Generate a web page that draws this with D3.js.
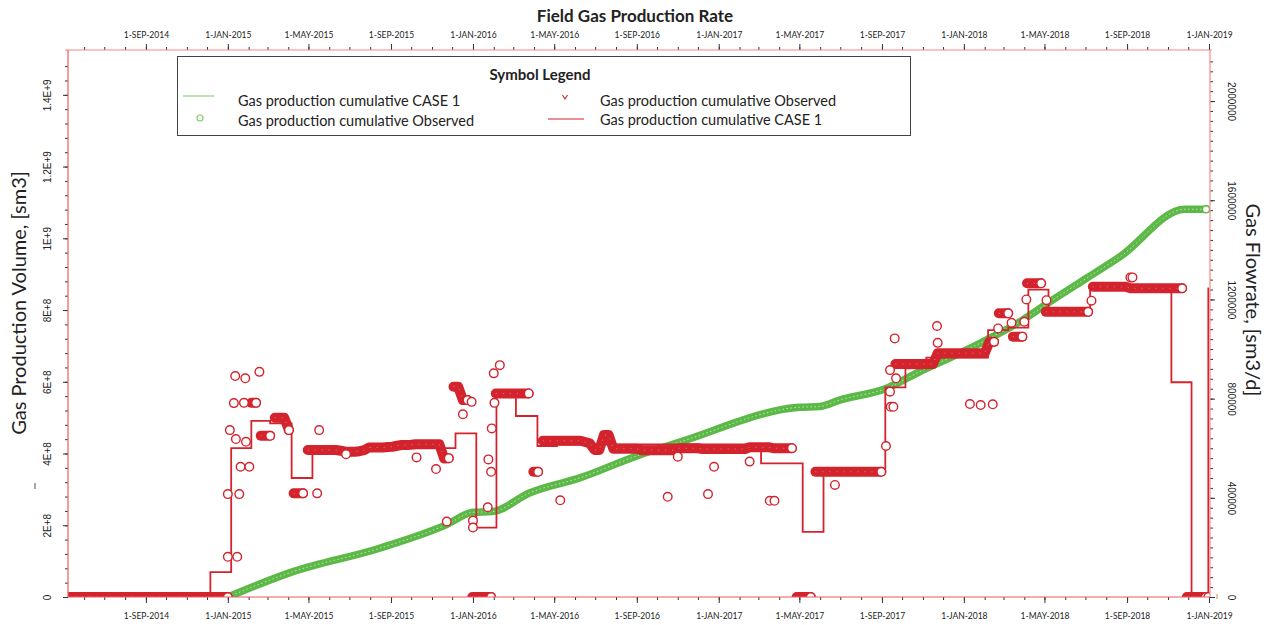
<!DOCTYPE html>
<html>
<head>
<meta charset="utf-8">
<script src="https://cdn.jsdelivr.net/npm/d3@7"></script>
<style>
  body { margin: 0; background: #fff; }
  svg { display: block; font-family: Lato, "Open Sans", sans-serif; }
</style>
</head>
<body>
<svg id="chart" width="1273" height="625"></svg>
<script>
// ---- axis domains and ticks ----
const dateDomain = ["2014-05-08", "2019-01-01"];
const volumeDomain = [0, 1.525e9];
const rateDomain = [0, 2.206e6];

const xTickDates = ["2014-09-01", "2015-01-01", "2015-05-01", "2015-09-01", "2016-01-01", "2016-05-01",
  "2016-09-01", "2017-01-01", "2017-05-01", "2017-09-01", "2018-01-01", "2018-05-01", "2018-09-01", "2019-01-01"];
const xTickLabels = ["1-SEP-2014", "1-JAN-2015", "1-MAY-2015", "1-SEP-2015", "1-JAN-2016", "1-MAY-2016",
  "1-SEP-2016", "1-JAN-2017", "1-MAY-2017", "1-SEP-2017", "1-JAN-2018", "1-MAY-2018", "1-SEP-2018", "1-JAN-2019"];

const volumeTicks = [0, 2e8, 4e8, 6e8, 8e8, 1e9, 1.2e9, 1.4e9];
const volumeTickLabels = ["0", "2E+8", "4E+8", "6E+8", "8E+8", "1E+9", "1.2E+9", "1.4E+9"];
const rateTicks = [0, 400000, 800000, 1200000, 1600000, 2000000];
const rateTickLabels = ["0", "400000", "800000", "1200000", "1600000", "2000000"];

// ---- cumulative gas production, CASE 1 (sm3) ----
const cumDates = ["2015-01-01", "2015-04-07", "2015-08-15", "2015-11-22", "2016-01-01", "2016-01-30",
  "2016-03-25", "2016-06-08", "2016-09-05", "2016-11-04", "2017-05-01", "2017-05-31", "2017-06-30",
  "2017-09-08", "2017-10-27", "2017-12-15", "2018-02-04", "2018-03-25", "2018-05-13", "2018-07-02",
  "2018-08-21", "2018-11-26", "2019-01-01"];
const cumVolume = [0, 70e6, 136e6, 201e6, 236e6, 238e6,
  290e6, 332e6, 396e6, 432e6, 529e6, 531e6, 549e6,
  582e6, 628e6, 670e6, 717e6, 767e6, 828e6, 888e6,
  948e6, 1081e6, 1081e6];

// ---- gas rate, CASE 1 (sm3/d), step changes ----
const caseDates = ["2014-05-08", "2014-12-06", "2015-01-06", "2015-02-05", "2015-03-05", "2015-04-06",
  "2015-05-07", "2015-12-06", "2016-01-06", "2016-02-05", "2016-03-05", "2016-04-06", "2016-05-05",
  "2017-03-05", "2017-05-06", "2017-06-06", "2017-09-06", "2017-10-06", "2017-11-06", "2018-02-06",
  "2018-03-08", "2018-04-07", "2018-05-07", "2018-07-08", "2018-11-06", "2018-12-06", "2018-12-31",
  "2019-01-01"];
const caseRate = [0, 100000, 600000, 710000, 700000, 480000,
  600000, 660000, 280000, 830000, 730000, 609000, 615000,
  539000, 263000, 505000, 845000, 922000, 965000, 1076000,
  1086000, 1240000, 1160000, 1254000, 866000, 0, 1245000,
  1245000];

// ---- observed gas rate (thousand sm3/d), weekly from obsStart ----
const obsStart = "2014-05-08";
const obsWeekly = [
  0, 0, 0, 0, 0, 0, 0, 0, 0, 0, 0, 0, 0, 0, 0, 0, 0,
  0, 0, 0, 0, 0, 0, 0, 0, 0, 0, 0, 0, 0, 0, 0, 0, 0,
  0, null, null, null, null, 783, 783, 650, 650, 650,
  723, 723, 723, 673, 418, 418, 418, 593, 593, 593,
  593, 593, 593, 593, 590, 586, 586, 586, 588, 592,
  603, 603, 603, 603, 605, 606, 610, 613, 613, 614,
  616, 616, 616, 616, 616, 616, 559, 560, 848, 848,
  794, 794, 0, 0, 0, 0, 0, 821, 821, 821,
  821, 821, 821, 821, 821, 505, 505, 630, 630, 630,
  630, 630, 630, 630, 630, 630, 625, 620, 593, 593,
  653, 653, 598, 598, 598, 598, 598, 598, 592, 592,
  592, 592, 592, 592, 592, 592, 600, 600, 600, 600,
  600, 597, 597, 597, 597, 597, 597, 597, 597, 597,
  597, 604, 604, 604, 604, 604, 600, 600, 600, 600,
  600, 0, 0, 0, 0, 505, 505, 505, 505, 505,
  505, 505, 505, 505, 505, 505, 505, 505, 505, 505,
  609, 767, 940, 940, 940, 940, 940, 940, 940, 940,
  940, 983, 983, 983, 983, 983, 983, 983, 983, 983,
  983, 983, 1029, 1029, 1144, 1144, 1144, 1050, 1050, 1050,
  1265, 1265, 1265, 1265, 1150, 1150, 1150, 1150, 1150, 1150,
  1150, 1150, 1150, 1150, 1251, 1251, 1251, 1251, 1251, 1251,
  1251, 1251, 1245, 1245, 1245, 1245, 1245, 1245, 1245, 1245,
  1245, 1245, 1245, 1245, 0, 0, 0, 0, 0
];
// scattered observations (date, thousand sm3/d)
const obsExtraDates = ["2015-01-01", "2015-01-15", "2015-01-01", "2015-01-18", "2015-01-04", "2015-01-10",
  "2015-01-13", "2015-01-28", "2015-01-20", "2015-02-02", "2015-01-12", "2015-01-27", "2015-02-17",
  "2015-01-25", "2015-05-14", "2015-05-17", "2015-06-26", "2015-10-09", "2015-11-07", "2015-11-23",
  "2015-12-17", "2015-12-30", "2016-01-01", "2016-01-01", "2016-01-24", "2016-01-28", "2016-01-29",
  "2016-01-23", "2016-02-01", "2016-02-10", "2016-02-02", "2016-05-10", "2016-11-01", "2016-10-17",
  "2016-12-16", "2016-12-25", "2017-02-16", "2017-03-18", "2017-03-25", "2017-06-23",
  "2017-09-13", "2017-09-13", "2017-09-20", "2017-09-22", "2017-09-18", "2017-11-22", "2017-11-23",
  "2018-01-10", "2018-01-26", "2018-02-13", "2018-02-21", "2018-03-13", "2018-04-01", "2018-04-04",
  "2018-05-04", "2018-07-10", "2018-09-06", "2018-09-09", "2018-12-31"];
const obsExtraRate = [162, 162, 415, 415, 673, 782,
  637, 626, 525, 525, 891, 882, 908,
  783, 418, 673, 576, 563, 516, 304,
  737, 787, 308, 280, 555, 505, 680,
  362, 902, 935, 783, 390, 566, 404,
  415, 525, 546, 388, 388, 452,
  828, 915, 1043, 882, 767, 1093, 1025,
  778, 774, 777, 1083, 1106, 1110, 1200,
  1197, 1195, 1289, 1289, 0];

// ---- legend ----
const legendTitle = "Symbol Legend";
const legendLabels = ["Gas production cumulative CASE 1", "Gas production cumulative Observed",
  "Gas production cumulative Observed", "Gas production cumulative CASE 1"];

const chartTitle = "Field Gas Production Rate";
const leftTitle = "Gas Production Volume, [sm3]";
const rightTitle = "Gas Flowrate, [sm3/d]";

// ---- colours ----
const GREEN = "#5cb947";
const RED = "#d3232d";
const FRAME = "#ee5a5e";
const FRAME_LIGHT = "#f58a8c";
const TICK = "#333";

const MARK_R = 4.3, MARK_W = 1.4;

const parse = d3.utcParse("%Y-%m-%d");
const plot = { left: 68, right: 1209, top: 50, bottom: 597 };

const x = d3.scaleUtc().domain(dateDomain.map(parse)).range([plot.left, plot.right]);
const yVol = d3.scaleLinear().domain(volumeDomain).range([plot.bottom, plot.top]);
const yRate = d3.scaleLinear().domain(rateDomain).range([plot.bottom, plot.top]);

const svg = d3.select("#chart");

svg.append("defs").append("clipPath").attr("id", "plotClip")
  .append("rect")
  .attr("x", plot.left).attr("y", plot.top)
  .attr("width", plot.right - plot.left + 1).attr("height", plot.bottom - plot.top);

// ---- title ----
svg.append("text")
  .attr("x", 635).attr("y", 22)
  .attr("text-anchor", "middle")
  .attr("font-size", 17).attr("font-weight", "bold").attr("fill", "#222")
  .text(chartTitle);

// ---- time axes (monthly minor ticks, labelled every four months) ----
const months = d3.utcMonth.range(d3.utcMonth.ceil(x.domain()[0]), d3.utcDay.offset(x.domain()[1], 1));
const majorDates = xTickDates.map(parse);

function timeAxis(axisFn, y, labelY) {
  const gMinor = svg.append("g").attr("transform", `translate(0,${y})`)
    .call(axisFn(x).tickValues(months).tickSize(3).tickFormat(""));
  gMinor.select(".domain").remove();
  gMinor.selectAll("line").attr("stroke", TICK);
  const gMajor = svg.append("g").attr("transform", `translate(0,${y})`)
    .call(axisFn(x).tickValues(majorDates).tickSize(6)
      .tickFormat((d, i) => xTickLabels[i]));
  gMajor.select(".domain").remove();
  gMajor.selectAll("line").attr("stroke", TICK);
  gMajor.selectAll("text")
    .attr("y", labelY).attr("dy", null)
    .attr("font-size", 8.5).attr("fill", "#222")
    .attr("font-family", "Lato, sans-serif");
}
timeAxis(d3.axisTop, plot.top, -12);
timeAxis(d3.axisBottom, plot.bottom, 22);

// ---- left volume axis ----
const volMinor = d3.range(0, 1.52e9, 4e7);
const gVolMinor = svg.append("g").attr("transform", `translate(${plot.left},0)`)
  .call(d3.axisLeft(yVol).tickValues(volMinor).tickSize(3).tickFormat(""));
gVolMinor.select(".domain").remove();
gVolMinor.selectAll("line").attr("stroke", TICK);
const gVol = svg.append("g").attr("transform", `translate(${plot.left},0)`)
  .call(d3.axisLeft(yVol).tickValues(volumeTicks).tickSize(5)
    .tickFormat((d, i) => volumeTickLabels[i]));
gVol.select(".domain").remove();
gVol.selectAll("line").attr("stroke", TICK);
gVol.selectAll("text")
  .attr("x", null).attr("dy", null)
  .attr("text-anchor", "middle")
  .attr("transform", "translate(-17,0) rotate(-90)")
  .attr("font-size", 10).attr("fill", "#222");

// ---- right rate axis ----
const rateMinor = d3.range(0, 2.2e6, 40000);
const gRateMinor = svg.append("g").attr("transform", `translate(${plot.right + 1},0)`)
  .call(d3.axisRight(yRate).tickValues(rateMinor).tickSize(3).tickFormat(""));
gRateMinor.select(".domain").remove();
gRateMinor.selectAll("line").attr("stroke", TICK);
const gRate = svg.append("g").attr("transform", `translate(${plot.right + 1},0)`)
  .call(d3.axisRight(yRate).tickValues(rateTicks).tickSize(5)
    .tickFormat((d, i) => rateTickLabels[i]));
gRate.select(".domain").remove();
gRate.selectAll("line").attr("stroke", TICK);
gRate.selectAll("text")
  .attr("x", null).attr("dy", null)
  .attr("text-anchor", "middle")
  .attr("transform", "translate(18,0) rotate(90)")
  .attr("font-size", 10).attr("fill", "#222");

// ---- axis titles ----
svg.append("text")
  .attr("transform", "translate(26,303) rotate(-90)")
  .attr("text-anchor", "middle")
  .attr("font-size", 20).attr("fill", "#222")
  .text(leftTitle);
svg.append("text")
  .attr("transform", "translate(1246,300) rotate(90)")
  .attr("text-anchor", "middle")
  .attr("font-size", 20).attr("fill", "#222")
  .text(rightTitle);

// ---- data layers ----
const data = svg.append("g").attr("clip-path", "url(#plotClip)");

// cumulative volume: thick band of overlapping markers
const cumPts = cumDates.map((d, i) => [x(parse(d)), yVol(cumVolume[i])]);
const cumLine = d3.line().curve(d3.curveMonotoneX);
data.append("path")
  .attr("d", cumLine(cumPts))
  .attr("fill", "none").attr("stroke", GREEN).attr("stroke-width", 7.5);
data.append("path")
  .attr("d", cumLine(cumPts))
  .attr("fill", "none").attr("stroke", "#bfe5b3").attr("stroke-width", 1)
  .attr("stroke-dasharray", "1.5 2.5");
const cumEnd = cumPts[cumPts.length - 1];
data.append("circle")
  .attr("cx", cumEnd[0] - 3).attr("cy", cumEnd[1]).attr("r", 3.6)
  .attr("fill", "#fff").attr("stroke", GREEN).attr("stroke-width", 1.5);

// CASE 1 rate, step line
const stepLine = d3.line()
  .x(d => x(parse(d.date))).y(d => yRate(d.rate))
  .curve(d3.curveStepAfter);
data.append("path")
  .datum(caseDates.map((d, i) => ({ date: d, rate: caseRate[i] })))
  .attr("d", stepLine)
  .attr("fill", "none").attr("stroke", RED).attr("stroke-width", 1.8);

// observed rate: consecutive weekly readings at similar level form a run;
// the open-circle marker is swept along each run and the last one stays open
const start = parse(obsStart);
const weekly = obsWeekly
  .map((v, i) => ({ date: d3.utcDay.offset(start, 7 * i), rate: v }))
  .filter(d => d.rate !== null);
const runs = [];
weekly.forEach(d => {
  const run = runs[runs.length - 1];
  const last = run && run[run.length - 1];
  if (last && (d.date - last.date) <= 8 * 864e5 && Math.abs(d.rate - last.rate) <= 62) run.push(d);
  else runs.push([d]);
});
const px = d => [x(d.date), yRate(d.rate * 1000)];
const obsG = data.append("g");
runs.forEach(run => {
  if (run.length > 1) {
    const path = d3.line()(run.map(px));
    obsG.append("path")
      .attr("d", path)
      .attr("fill", "none").attr("stroke", RED)
      .attr("stroke-width", 2 * MARK_R + MARK_W)
      .attr("stroke-linecap", "round").attr("stroke-linejoin", "round");
    // faint specks left by the marker interiors
    obsG.append("path")
      .attr("d", path)
      .attr("fill", "none").attr("stroke", "#f4c4c6")
      .attr("stroke-width", 0.8).attr("stroke-dasharray", "1 6")
      .attr("opacity", 0.7);
  }
  const end = px(run[run.length - 1]);
  obsG.append("circle")
    .attr("cx", end[0]).attr("cy", end[1]).attr("r", MARK_R)
    .attr("fill", "#fff").attr("stroke", RED).attr("stroke-width", MARK_W);
});
const extras = obsExtraDates.map((d, i) => ({ date: parse(d), rate: obsExtraRate[i] }))
  .sort((a, b) => a.date - b.date);
obsG.append("g").selectAll("circle")
  .data(extras).join("circle")
  .attr("cx", d => px(d)[0]).attr("cy", d => px(d)[1])
  .attr("r", MARK_R)
  .attr("fill", "#fff").attr("stroke", RED).attr("stroke-width", MARK_W);

// ---- frame ----
const frame = svg.append("g").attr("fill", "none");
frame.append("line").attr("x1", plot.left - 3).attr("x2", plot.right + 3)
  .attr("y1", plot.top).attr("y2", plot.top).attr("stroke", FRAME_LIGHT).attr("stroke-width", 1.2);
frame.append("line").attr("x1", plot.left).attr("x2", plot.right + 1)
  .attr("y1", plot.bottom).attr("y2", plot.bottom).attr("stroke", FRAME).attr("stroke-width", 1.2);
frame.append("line").attr("x1", plot.left).attr("x2", plot.left)
  .attr("y1", plot.top).attr("y2", plot.bottom).attr("stroke", FRAME).attr("stroke-width", 1.2);
frame.append("line").attr("x1", plot.right + 1).attr("x2", plot.right + 1)
  .attr("y1", plot.top).attr("y2", plot.bottom).attr("stroke", FRAME_LIGHT).attr("stroke-width", 1.2);

// small marks beside the value axes
svg.append("line").attr("x1", 35).attr("x2", 35).attr("y1", 483).attr("y2", 489)
  .attr("stroke", "#555").attr("stroke-width", 1);
svg.append("line").attr("x1", 1217).attr("x2", 1217).attr("y1", 594).attr("y2", 599)
  .attr("stroke", "#d88a3a").attr("stroke-width", 1);

// ---- legend ----
const lg = svg.append("g");
lg.append("rect")
  .attr("x", 177.5).attr("y", 56.5).attr("width", 733).attr("height", 79)
  .attr("fill", "#fff").attr("stroke", "#444").attr("stroke-width", 1);
lg.append("text")
  .attr("x", 540).attr("y", 80).attr("text-anchor", "middle")
  .attr("font-size", 15).attr("font-weight", "bold").attr("fill", "#222")
  .text(legendTitle);
const legendPos = [[238, 106], [238, 126], [600, 106], [600, 125]];
lg.selectAll("text.item").data(legendLabels).join("text")
  .attr("class", "item")
  .attr("x", (d, i) => legendPos[i][0]).attr("y", (d, i) => legendPos[i][1])
  .attr("font-size", 14.5).attr("fill", "#222")
  .text(d => d);
lg.append("line").attr("x1", 183).attr("x2", 214).attr("y1", 96).attr("y2", 96)
  .attr("stroke", "#8fd27f").attr("stroke-width", 1.2);
lg.append("circle").attr("cx", 200).attr("cy", 118).attr("r", 3)
  .attr("fill", "#fff").attr("stroke", "#7ccf6a").attr("stroke-width", 1.2);
lg.append("path").attr("d", "M562.5,95 L565,99 L567.5,95")
  .attr("fill", "none").attr("stroke", RED).attr("stroke-width", 1.1);
lg.append("line").attr("x1", 548).attr("x2", 584).attr("y1", 119).attr("y2", 119)
  .attr("stroke", RED).attr("stroke-width", 1.2);
</script>
</body>
</html>
